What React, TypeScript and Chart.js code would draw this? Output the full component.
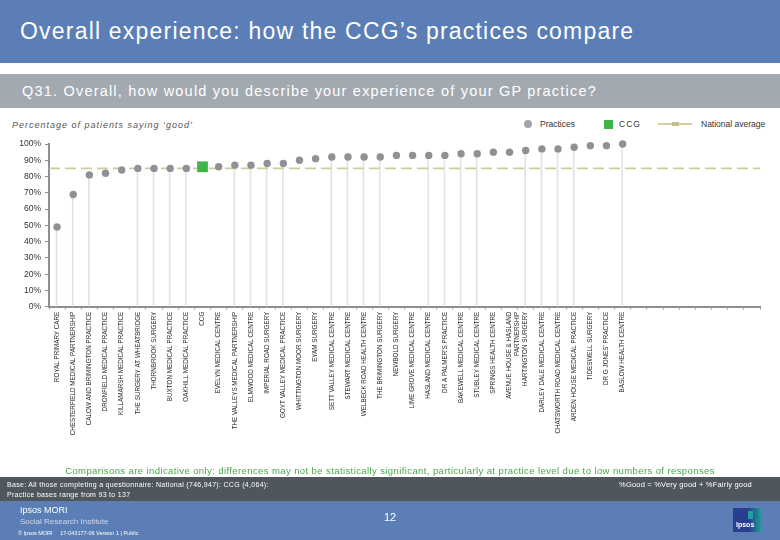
import React, { useEffect, useRef } from 'react';
import { Chart, registerables } from 'chart.js';

Chart.register(...registerables);

const FONT = "'Liberation Sans', Arial, sans-serif";

// Practice names in display order (CCG sits among them); trailing blanks are empty slots on the axis
const categories: (string | string[])[] = [
  'ROYAL PRIMARY CARE',
  'CHESTERFIELD MEDICAL PARTNERSHIP',
  'CALOW AND BRIMINGTON PRACTICE',
  'DRONFIELD MEDICAL PRACTICE',
  'KILLAMARSH MEDICAL PRACTICE',
  'THE SURGERY AT WHEATBRIDGE',
  'THORNBROOK SURGERY',
  'BUXTON MEDICAL PRACTICE',
  'OAKHILL MEDICAL PRACTICE',
  'CCG',
  'EVELYN MEDICAL CENTRE',
  'THE VALLEYS MEDICAL PARTNERSHIP',
  'ELMWOOD MEDICAL CENTRE',
  'IMPERIAL ROAD SURGERY',
  'GOYT VALLEY MEDICAL PRACTICE',
  'WHITTINGTON MOOR SURGERY',
  'EYAM SURGERY',
  'SETT VALLEY MEDICAL CENTRE',
  'STEWART MEDICAL CENTRE',
  'WELBECK ROAD HEALTH CENTRE',
  'THE BRIMINGTON SURGERY',
  'NEWBOLD SURGERY',
  'LIME GROVE MEDICAL CENTRE',
  'HASLAND MEDICAL CENTRE',
  "DR A PALMER'S PRACTICE",
  'BAKEWELL MEDICAL CENTRE',
  'STUBLEY MEDICAL CENTRE',
  'SPRINGS HEALTH CENTRE',
  ['AVENUE HOUSE & HASLAND', 'PARTNERSHIP'],
  'HARTINGTON SURGERY',
  'DARLEY DALE MEDICAL CENTRE',
  'CHATSWORTH ROAD MEDICAL CENTRE',
  'ARDEN HOUSE MEDICAL PRACTICE',
  'TIDESWELL SURGERY',
  "DR G JONES' PRACTICE",
  'BASLOW HEALTH CENTRE',
  '', '', '', '', '', '', '', '',
];

// % saying good for each practice (null at the CCG slot and the empty slots)
const practiceValues: (number | null)[] = [
  49, 69, 81, 82, 84, 85, 85, 85, 85, null,
  86, 87, 87, 88, 88, 90, 91, 92, 92, 92,
  92, 93, 93, 93, 93, 94, 94, 95, 95, 96,
  97, 97, 98, 99, 99, 100,
  null, null, null, null, null, null, null, null,
];

const ccgIndex = 9;
const ccgValue = 86;
const nationalAverage = 85;

// which practices show a drop line to the axis in the original
const dropLineFlags: number[] = [
  1, 1, 1, 0, 0, 1, 1, 1, 1, 0,
  0, 1, 1, 1, 1, 0, 0, 1, 1, 1,
  1, 0, 0, 1, 1, 1, 1, 0, 0, 1,
  1, 1, 1, 0, 0, 1,
];

const yMin = 0;
const yMax = 100;
const yStep = 10;

function ChartCanvas() {
  const ref = useRef<HTMLCanvasElement | null>(null);
  useEffect(() => {
    if (!ref.current) return;
    const n = categories.length;
    const ccgData = categories.map((_, i) => (i === ccgIndex ? ccgValue : null));
    const dropData = categories.map((_, i) =>
      dropLineFlags[i] && practiceValues[i] != null ? practiceValues[i] : null
    );
    const chart = new Chart(ref.current, {
      type: 'bar',
      data: {
        labels: categories as any,
        datasets: [
          {
            type: 'bar',
            data: dropData,
            backgroundColor: '#e3e3e3',
            barThickness: 1,
            order: 4,
          } as any,
          {
            type: 'line',
            xAxisID: 'x2',
            data: [
              { x: 0, y: nationalAverage },
              { x: n, y: nationalAverage },
            ],
            borderColor: '#d2ca98',
            borderWidth: 1.6,
            borderDash: [11, 5],
            pointRadius: 0,
            order: 3,
          } as any,
          {
            type: 'line',
            data: practiceValues,
            showLine: false,
            clip: false,
            pointRadius: 3.7,
            pointBackgroundColor: '#8f9196',
            pointBorderWidth: 0,
            order: 2,
          } as any,
          {
            type: 'line',
            data: ccgData,
            showLine: false,
            clip: false,
            pointStyle: 'rect',
            pointRadius: 7.6,
            pointBackgroundColor: '#3db54a',
            pointBorderWidth: 0,
            order: 1,
          } as any,
        ],
      },
      options: {
        animation: false,
        responsive: false,
        layout: { padding: { top: 14, right: 20, left: 0, bottom: 0 } },
        plugins: { legend: { display: false }, tooltip: { enabled: false } },
        scales: {
          x: {
            type: 'category',
            offset: true,
            grid: {
              offset: true,
              drawOnChartArea: false,
              drawTicks: true,
              tickLength: 3,
              color: '#a8a8a8',
            },
            border: { display: true, color: '#8f8f8f', width: 2 },
            ticks: {
              autoSkip: false,
              minRotation: 90,
              maxRotation: 90,
              padding: 2,
              color: '#2a2a2a',
              font: { family: FONT, size: 6.3 },
            },
            afterFit: (s: any) => {
              s.height = 163.3;
            },
          },
          x2: {
            type: 'linear',
            position: 'top',
            display: true,
            offset: false,
            min: 0,
            max: n,
            ticks: { display: false },
            grid: { display: false, drawTicks: false, offset: false },
            border: { display: false },
            afterFit: (s: any) => {
              s.height = 0;
            },
          },
          y: {
            min: yMin,
            max: yMax,
            ticks: {
              stepSize: yStep,
              padding: 4,
              color: '#333',
              font: { family: FONT, size: 8.5 },
              callback: (v: any) => v + '%',
            },
            grid: { drawOnChartArea: false, drawTicks: true, tickLength: 4, color: '#8f8f8f' },
            border: { display: true, color: '#8f8f8f', width: 2 },
            afterFit: (s: any) => {
              s.width = 49;
            },
          },
        },
      } as any,
    });
    return () => chart.destroy();
  }, []);
  return <canvas ref={ref} width={780} height={340} style={{ width: 780, height: 340, display: 'block' }} />;
}

export default function App() {
  const abs = (o: React.CSSProperties): React.CSSProperties => ({ position: 'absolute', ...o });
  return (
    <div style={abs({ left: 0, top: 0, width: 780, height: 540, overflow: 'hidden', background: '#fff', fontFamily: FONT })}>
      <div style={abs({ left: 0, top: 0, width: 780, height: 63, background: '#5a7eb5' })}>
        <div style={abs({ left: 20, top: 0, height: 63, lineHeight: '63px', color: '#fff', fontSize: 23, letterSpacing: 1.2, whiteSpace: 'nowrap' })}>
          Overall experience: how the CCG’s practices compare
        </div>
      </div>
      <div style={abs({ left: 0, top: 74, width: 780, height: 34, background: '#a3a9b1' })}>
        <div style={abs({ left: 22, top: 0, height: 34, lineHeight: '34px', color: '#fff', fontSize: 14.5, letterSpacing: 1.2, whiteSpace: 'nowrap' })}>
          Q31. Overall, how would you describe your experience of your GP practice?
        </div>
      </div>
      <div style={abs({ left: 12, top: 118, lineHeight: '14px', color: '#555', fontSize: 9, fontStyle: 'italic', letterSpacing: 1, whiteSpace: 'nowrap' })}>
        Percentage of patients saying ‘good’
      </div>
      {/* legend */}
      <div style={abs({ left: 524, top: 120, width: 8, height: 8, borderRadius: 4, background: '#a3a5aa' })} />
      <div style={abs({ left: 540, top: 118, lineHeight: '12px', fontSize: 8.5, color: '#333', whiteSpace: 'nowrap' })}>Practices</div>
      <div style={abs({ left: 604, top: 120, width: 9, height: 9, background: '#3db54a' })} />
      <div style={abs({ left: 619, top: 118, lineHeight: '12px', fontSize: 8.5, color: '#333', letterSpacing: 1, whiteSpace: 'nowrap' })}>CCG</div>
      <div style={abs({ left: 658, top: 123, width: 34, height: 2, background: '#d6cf9f' })} />
      <div style={abs({ left: 672, top: 122, width: 7, height: 4, background: '#c7bf8c' })} />
      <div style={abs({ left: 701, top: 118, lineHeight: '12px', fontSize: 8.5, color: '#333', whiteSpace: 'nowrap' })}>National average</div>

      <div style={abs({ left: 0, top: 130, width: 780, height: 340 })}>
        <ChartCanvas />
      </div>

      <div style={abs({ left: 0, top: 464, width: 780, textAlign: 'center', lineHeight: '14px', fontSize: 9.5, letterSpacing: 0.4, color: '#4aa54a', whiteSpace: 'nowrap' })}>
        Comparisons are indicative only: differences may not be statistically significant, particularly at practice level due to low numbers of responses
      </div>
      <div style={abs({ left: 0, top: 477, width: 780, height: 24, background: '#50565d' })}>
        <div style={abs({ left: 7, top: 3, lineHeight: '10px', fontSize: 7, letterSpacing: 0.3, color: '#fff', whiteSpace: 'nowrap' })}>
          Base: All those completing a questionnaire: National (746,947): CCG (4,064):
        </div>
        <div style={abs({ left: 7, top: 13, lineHeight: '10px', fontSize: 7, letterSpacing: 0.3, color: '#fff', whiteSpace: 'nowrap' })}>
          Practice bases range from 93 to 137
        </div>
        <div style={abs({ right: 28, top: 3, lineHeight: '10px', fontSize: 7.5, letterSpacing: 0.2, color: '#fff', whiteSpace: 'nowrap' })}>
          %Good = %Very good + %Fairly good
        </div>
      </div>
      <div style={abs({ left: 0, top: 501, width: 780, height: 39, background: '#5a7eb5' })}>
        <div style={abs({ left: 20, top: 4, lineHeight: '11px', fontSize: 9, color: '#fff', whiteSpace: 'nowrap' })}>Ipsos MORI</div>
        <div style={abs({ left: 20, top: 15, lineHeight: '11px', fontSize: 8, color: '#cdd8ec', whiteSpace: 'nowrap' })}>Social Research Institute</div>
        <div style={abs({ left: 18, top: 28, lineHeight: '8px', fontSize: 5.5, color: '#fff', whiteSpace: 'nowrap' })}>
          © Ipsos MORI &nbsp;&nbsp;&nbsp; 17-043177-06 Version 1 | Public
        </div>
        <div style={abs({ left: 0, top: 9, width: 780, textAlign: 'center', lineHeight: '14px', fontSize: 11, color: '#fff' })}>12</div>
        <div style={abs({ left: 733, top: 7, width: 29, height: 24, background: 'linear-gradient(90deg, #2a3d8f 0%, #2a3d8f 55%, #1fa39a 100%)' })}>
          <div style={abs({ left: 15, top: 3, width: 5, height: 8, background: '#1fa39a' })} />
          <div style={abs({ left: 3, top: 13, lineHeight: '8px', fontSize: 7, fontWeight: 'bold', color: '#fff' })}>Ipsos</div>
        </div>
      </div>
    </div>
  );
}
